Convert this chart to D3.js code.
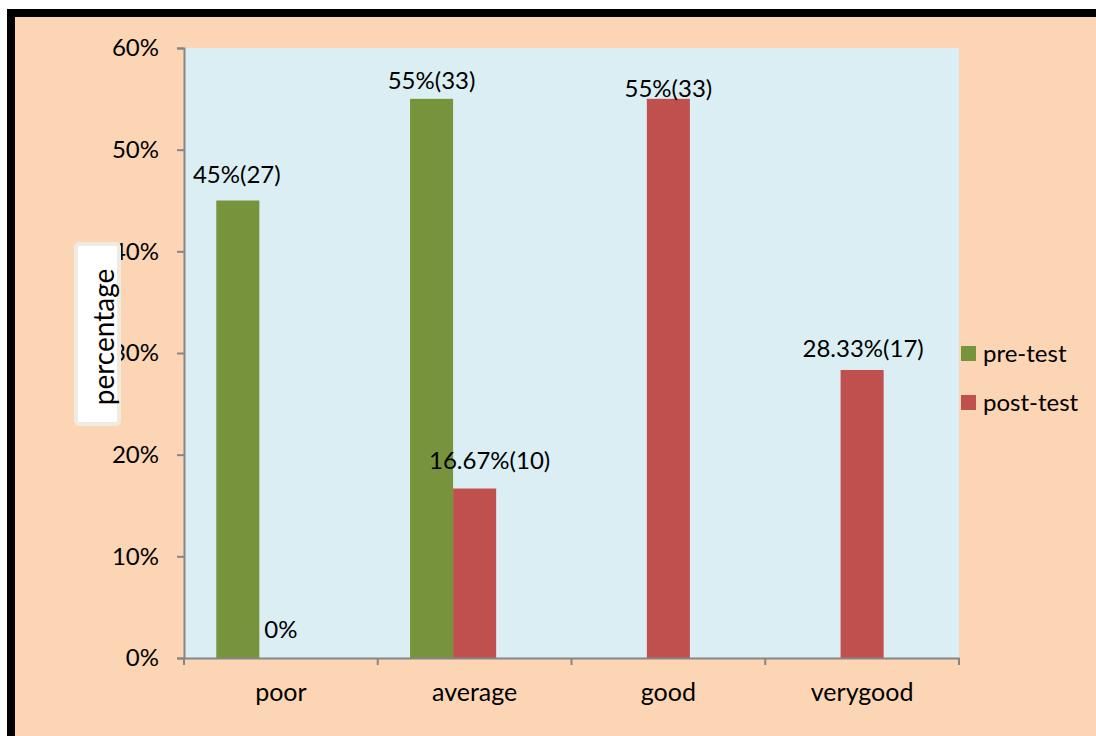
<!DOCTYPE html>
<html>
<head>
<meta charset="utf-8">
<script src="https://cdn.jsdelivr.net/npm/d3@7"></script>
<style>
  html, body { margin: 0; padding: 0; background: #ffffff; }
  svg { display: block; }
  text { font-family: Lato, "Open Sans", sans-serif; fill: #000; }
</style>
</head>
<body>
<script>
// ---- data ----
const categories = ["poor", "average", "good", "verygood"];
const seriesNames = ["pre-test", "post-test"];
const preTest = [45, 55, 0, 0];
const postTest = [0, 16.67, 55, 28.33];
const preLabels = ["45%(27)", "55%(33)", null, null];
const postLabels = ["0%", "16.67%(10)", "55%(33)", "28.33%(17)"];
const yTicks = [0, 10, 20, 30, 40, 50, 60];
const yTickLabels = ["0%", "10%", "20%", "30%", "40%", "50%", "60%"];
const yTitle = "percentage";

// ---- layout / style (not data) ----
const W = 1096, H = 736;
const plot = { left: 184, top: 48, right: 959, bottom: 658 };
const colors = ["#77933C", "#C0504D"];
const fontSize = 24;
const xFontSize = 25;
const titleFontSize = 28;
// manual label nudges [dx, dy] relative to bar centre / bar top (baseline)
const preNudge = [[-1, -18], [0, -10], [0, 0], [0, 0]];
const postNudge = [[0, -20], [15, -20], [0, -2], [1, -13]];

const svg = d3.select("body").append("svg").attr("width", W).attr("height", H);

// outer frame
svg.append("rect").attr("x", 0).attr("y", 0).attr("width", W).attr("height", H).attr("fill", "#ffffff");
svg.append("rect").attr("x", 7).attr("y", 9).attr("width", W - 7).attr("height", H - 9).attr("fill", "#000000");
svg.append("rect").attr("x", 15).attr("y", 17).attr("width", W - 15).attr("height", H - 17).attr("fill", "#FCD5B4");

// plot area
svg.append("rect")
  .attr("x", plot.left).attr("y", plot.top)
  .attr("width", plot.right - plot.left).attr("height", plot.bottom - plot.top)
  .attr("fill", "#DAEEF3");

const x0 = d3.scaleBand().domain(categories).range([plot.left, plot.right]).paddingInner(0).paddingOuter(0);
// Excel-style: 3 series slots (third slot empty), gap width 150%
const slotCount = 3;
const slotW = x0.bandwidth() / (slotCount + 1.5);
const groupOffset = slotW * 0.75;
const y = d3.scaleLinear().domain([0, 60]).range([plot.bottom, plot.top]);

const seriesData = [preTest, postTest];
const seriesLabels = [preLabels, postLabels];
const nudges = [preNudge, postNudge];

seriesData.forEach((vals, si) => {
  const g = svg.append("g");
  g.selectAll("rect").data(categories).join("rect")
    .attr("x", (c) => x0(c) + groupOffset + si * slotW)
    .attr("width", slotW)
    .attr("y", (c, i) => y(vals[i]))
    .attr("height", (c, i) => y(0) - y(vals[i]))
    .attr("fill", colors[si]);
});

// axes
const yAxis = d3.axisLeft(y).tickValues(yTicks).tickFormat((d, i) => yTickLabels[i]).tickSize(7).tickPadding(18);
const yg = svg.append("g").attr("transform", `translate(${plot.left},0)`).call(yAxis);
yg.select(".domain").attr("stroke", "#868686").attr("stroke-width", 2);
yg.selectAll(".tick line").attr("stroke", "#868686").attr("stroke-width", 2);
yg.selectAll(".tick text").attr("font-size", fontSize).attr("font-family", "Lato").attr("fill", "#000");

const xAxis = d3.axisBottom(x0).tickSize(0).tickPadding(25);
const xg = svg.append("g").attr("transform", `translate(0,${plot.bottom})`).call(xAxis);
xg.select(".domain").attr("stroke", "#868686").attr("stroke-width", 2);
xg.selectAll(".tick text").attr("font-size", xFontSize).attr("font-family", "Lato").attr("fill", "#000");
// category boundary ticks
const bounds = categories.map((c) => x0(c)).concat([x0(categories[categories.length - 1]) + x0.bandwidth()]);
xg.selectAll("line.bound").data(bounds).join("line").attr("class", "bound")
  .attr("x1", (d) => d).attr("x2", (d) => d).attr("y1", 0).attr("y2", 7)
  .attr("stroke", "#868686").attr("stroke-width", 2);

// data labels
seriesData.forEach((vals, si) => {
  categories.forEach((c, i) => {
    const lab = seriesLabels[si][i];
    if (!lab) return;
    const cx = x0(c) + groupOffset + si * slotW + slotW / 2;
    svg.append("text")
      .attr("x", cx + nudges[si][i][0])
      .attr("y", y(vals[i]) + nudges[si][i][1])
      .attr("text-anchor", "middle")
      .attr("font-size", fontSize)
      .text(lab);
  });
});

// y-axis title box
svg.append("rect").attr("x", 76).attr("y", 244).attr("width", 43).attr("height", 180)
  .attr("rx", 3).attr("fill", "#ffffff").attr("stroke", "#EEECE1").attr("stroke-width", 4);
svg.append("text")
  .attr("transform", "translate(114,337) rotate(-90)")
  .attr("text-anchor", "middle")
  .attr("font-size", titleFontSize)
  .text(yTitle);

// legend
const leg = svg.append("g");
seriesNames.forEach((n, i) => {
  leg.append("rect").attr("x", 961).attr("y", 346 + i * 49).attr("width", 15).attr("height", 15).attr("fill", colors[i]);
  leg.append("text").attr("x", 983).attr("y", 362 + i * 48.5).attr("font-size", fontSize).text(n);
});
</script>
</body>
</html>
